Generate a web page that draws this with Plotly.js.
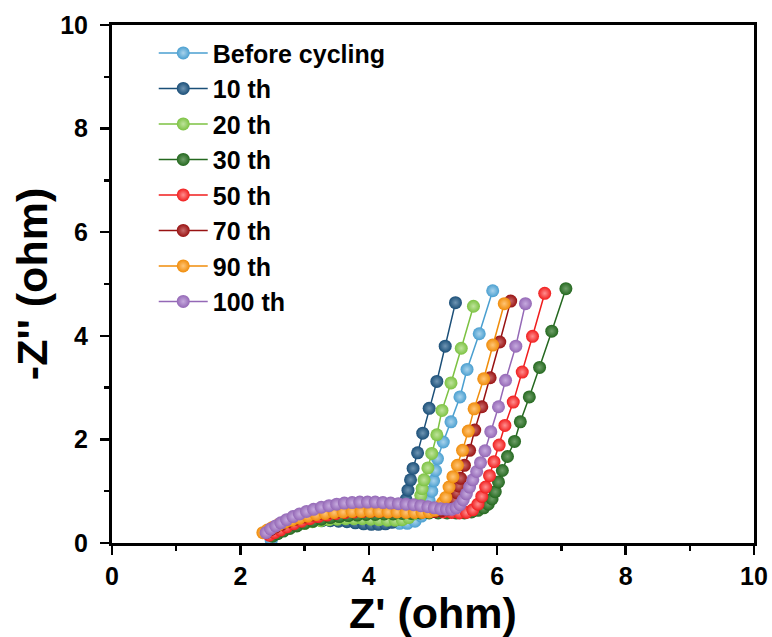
<!DOCTYPE html>
<html>
<head>
<meta charset="utf-8">
<script src="https://cdn.plot.ly/plotly-3.0.1.min.js"></script>
<style>html,body{margin:0;padding:0;background:#fff;}#chart{width:772px;height:637px;}</style>
</head>
<body>
<div id="chart"></div>
<script>
const seriesNames = ["Before cycling", "10 th", "20 th", "30 th", "50 th", "70 th", "90 th", "100 th"];
const seriesColors = ["#4a9fd0", "#1b4f78", "#7cc242", "#24681f", "#f01d1d", "#981212", "#f08c0a", "#9468b6"];
const seriesHighlights = ["#a9d3ec", "#6f95b3", "#bfe39c", "#6f9f69", "#ff8f8f", "#c96b6b", "#ffc577", "#c6aade"];

const zReBefore = [2.48,2.52,2.58,2.66,2.75,2.85,2.96,3.08,3.20,3.33,3.46,3.59,3.72,3.85,3.98,4.11,4.24,4.36,4.48,4.60,4.72,4.82,4.89,4.94,4.98,5.01,5.04,5.07,5.16,5.28,5.42,5.53,5.72,5.93];
const zImBefore = [0.05,0.15,0.24,0.33,0.42,0.49,0.54,0.58,0.60,0.61,0.61,0.60,0.58,0.56,0.53,0.49,0.45,0.41,0.38,0.38,0.42,0.52,0.66,0.82,1.00,1.20,1.40,1.63,1.95,2.34,2.82,3.35,4.04,4.87];

const zRe10 = [2.45,2.55,2.65,2.75,2.87,3.00,3.13,3.27,3.40,3.53,3.66,3.79,3.92,4.04,4.15,4.26,4.36,4.45,4.51,4.55,4.58,4.61,4.65,4.69,4.76,4.84,4.94,5.06,5.19,5.35];
const zIm10 = [0.18,0.25,0.31,0.35,0.39,0.41,0.42,0.43,0.43,0.42,0.41,0.39,0.37,0.36,0.36,0.37,0.40,0.46,0.56,0.68,0.84,1.02,1.22,1.44,1.74,2.12,2.60,3.12,3.80,4.64];

const zRe20 = [2.50,2.58,2.67,2.77,2.88,3.00,3.12,3.25,3.38,3.51,3.64,3.77,3.90,4.03,4.16,4.29,4.41,4.52,4.62,4.70,4.76,4.79,4.81,4.83,4.86,4.92,4.98,5.06,5.14,5.28,5.44,5.63];
const zIm20 = [0.15,0.20,0.25,0.30,0.34,0.38,0.41,0.43,0.45,0.46,0.47,0.47,0.47,0.46,0.45,0.44,0.44,0.45,0.49,0.56,0.66,0.78,0.92,1.05,1.22,1.45,1.73,2.09,2.56,3.09,3.76,4.57];

const zRe30 = [2.50,2.58,2.67,2.77,2.88,3.00,3.13,3.26,3.40,3.54,3.68,3.82,3.96,4.10,4.24,4.38,4.52,4.66,4.80,4.94,5.08,5.22,5.36,5.49,5.60,5.70,5.79,5.86,5.92,5.97,6.02,6.08,6.16,6.27,6.36,6.50,6.66,6.85,7.07];
const zIm30 = [0.13,0.18,0.23,0.28,0.33,0.38,0.42,0.46,0.49,0.51,0.53,0.54,0.55,0.55,0.56,0.56,0.57,0.57,0.58,0.58,0.58,0.58,0.58,0.58,0.60,0.63,0.68,0.75,0.85,0.99,1.18,1.40,1.67,1.96,2.34,2.82,3.39,4.09,4.91];

const zRe50 = [2.45,2.53,2.62,2.72,2.83,2.95,3.08,3.21,3.35,3.49,3.63,3.77,3.91,4.05,4.19,4.33,4.47,4.61,4.75,4.89,5.03,5.16,5.29,5.41,5.52,5.62,5.70,5.76,5.82,5.88,5.95,6.03,6.12,6.25,6.39,6.55,6.74];
const zIm50 = [0.15,0.20,0.25,0.31,0.37,0.42,0.47,0.51,0.54,0.57,0.59,0.60,0.61,0.62,0.62,0.62,0.62,0.62,0.62,0.61,0.61,0.60,0.59,0.58,0.59,0.64,0.75,0.90,1.08,1.30,1.57,1.89,2.27,2.72,3.30,3.99,4.82];

const zRe70 = [2.40,2.47,2.55,2.64,2.74,2.85,2.97,3.10,3.23,3.37,3.51,3.65,3.79,3.93,4.07,4.21,4.35,4.49,4.63,4.77,4.90,5.02,5.13,5.22,5.29,5.34,5.37,5.40,5.43,5.49,5.57,5.65,5.76,5.89,6.04,6.21];
const zIm70 = [0.20,0.26,0.31,0.36,0.41,0.46,0.50,0.54,0.57,0.59,0.61,0.62,0.63,0.63,0.63,0.63,0.62,0.62,0.61,0.61,0.61,0.61,0.62,0.65,0.72,0.83,0.97,1.10,1.25,1.50,1.79,2.18,2.63,3.19,3.88,4.67];

const zRe90 = [2.35,2.42,2.50,2.59,2.69,2.80,2.92,3.05,3.18,3.32,3.46,3.60,3.74,3.88,4.02,4.16,4.30,4.44,4.58,4.71,4.83,4.94,5.03,5.10,5.15,5.20,5.25,5.31,5.38,5.46,5.55,5.64,5.79,5.93,6.11];
const zIm90 = [0.20,0.25,0.30,0.35,0.40,0.44,0.48,0.52,0.55,0.57,0.59,0.60,0.61,0.61,0.61,0.61,0.60,0.60,0.59,0.59,0.59,0.60,0.63,0.70,0.78,0.88,1.08,1.28,1.50,1.79,2.16,2.59,3.17,3.82,4.62];

const zRe100 = [2.40,2.47,2.55,2.63,2.72,2.82,2.92,3.03,3.14,3.26,3.38,3.50,3.62,3.74,3.86,3.98,4.10,4.22,4.34,4.46,4.58,4.70,4.81,4.92,5.02,5.12,5.21,5.29,5.36,5.42,5.47,5.52,5.57,5.62,5.68,5.74,5.81,5.90,6.02,6.13,6.29,6.44];
const zIm100 = [0.20,0.27,0.33,0.39,0.45,0.51,0.56,0.61,0.65,0.69,0.72,0.75,0.77,0.78,0.79,0.79,0.79,0.78,0.77,0.76,0.75,0.74,0.72,0.70,0.68,0.66,0.65,0.65,0.68,0.74,0.83,0.95,1.08,1.22,1.38,1.55,1.78,2.15,2.63,3.14,3.80,4.62];

const xSets = [zReBefore, zRe10, zRe20, zRe30, zRe50, zRe70, zRe90, zRe100];
const ySets = [zImBefore, zIm10, zIm20, zIm30, zIm50, zIm70, zIm90, zIm100];

const xTickVals = [0, 2, 4, 6, 8, 10];
const yTickVals = [0, 2, 4, 6, 8, 10];

const fontFam = 'Liberation Sans, Arial, sans-serif';

const traces = seriesNames.map((name, i) => ({
  type: 'scatter',
  mode: 'lines+markers',
  name: name,
  x: xSets[i],
  y: ySets[i],
  line: {color: seriesColors[i], width: 1.5},
  marker: {
    size: 13,
    color: seriesColors[i],
    line: {width: 0},
    gradient: {type: 'radial', color: seriesHighlights[i]}
  }
}));

const axisCommon = {
  showline: true,
  linecolor: 'black',
  linewidth: 3,
  mirror: true,
  ticks: 'outside',
  ticklen: 9,
  tickwidth: 2.5,
  tickcolor: 'black',
  showgrid: false,
  zeroline: false,
  tickfont: {family: fontFam, size: 25, color: 'black', weight: 'bold'},
  minor: {dtick: 1, ticklen: 5, tickwidth: 2.5, tickcolor: 'black', ticks: 'outside', showgrid: false}
};

const layout = {
  width: 772,
  height: 637,
  margin: {l: 112, r: 18, t: 25, b: 94},
  paper_bgcolor: 'white',
  plot_bgcolor: 'white',
  showlegend: true,
  legend: {
    x: 0.065, y: 0.99, xanchor: 'left', yanchor: 'top',
    bgcolor: 'rgba(0,0,0,0)',
    font: {family: fontFam, size: 25, color: 'black', weight: 'bold'},
    tracegroupgap: 0,
    itemwidth: 49
  },
  xaxis: Object.assign({}, axisCommon, {
    range: [0, 10],
    tickvals: xTickVals,
    ticktext: xTickVals.map(String),
    title: {text: "Z' (ohm)", font: {family: fontFam, size: 43, color: 'black', weight: 'bold'}, standoff: 4}
  }),
  yaxis: Object.assign({}, axisCommon, {
    range: [0, 10],
    tickvals: yTickVals,
    ticktext: yTickVals.map(String),
    ticklabelstandoff: 7,
    title: {text: "-Z'' (ohm)", font: {family: fontFam, size: 43, color: 'black', weight: 'bold'}, standoff: 0}
  })
};

Plotly.newPlot('chart', traces, layout, {displayModeBar: false, staticPlot: true});
</script>
</body>
</html>
